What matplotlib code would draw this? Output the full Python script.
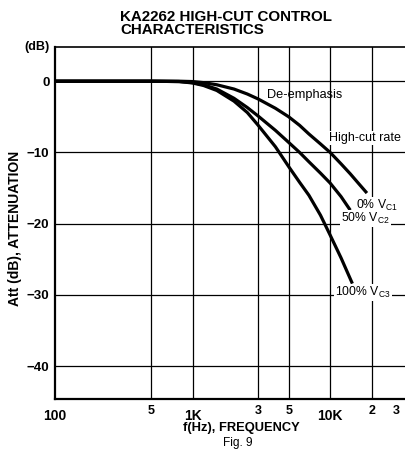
import matplotlib
matplotlib.use('Agg')
import matplotlib.pyplot as plt
from matplotlib.ticker import FixedLocator, FixedFormatter

plt.rcParams['font.family'] = ['Liberation Sans', 'DejaVu Sans']
plt.rcParams['mathtext.fontset'] = 'custom'
plt.rcParams['mathtext.rm'] = 'Liberation Sans'

# 曲线数据 (频率 Hz, 衰减 dB)
freq_0 = [100, 500, 800, 1000, 1200, 1500, 2000, 2500, 3000, 4000, 5000, 6000,
          7000, 8500, 10000, 12000, 14000, 16000, 18500]
att_0 = [0, 0, 0, -0.05, -0.2, -0.5, -1.1, -1.8, -2.5, -3.8, -5.0, -6.2,
         -7.4, -8.8, -10.0, -11.6, -13.0, -14.3, -15.7]

freq_50 = [100, 500, 800, 1000, 1200, 1500, 2000, 2500, 3000, 4000, 5000, 6000,
           7000, 8500, 10000, 12000, 14000]
att_50 = [0, 0, -0.05, -0.2, -0.5, -1.1, -2.4, -3.7, -4.9, -6.9, -8.6, -10.0,
          -11.3, -12.9, -14.3, -16.2, -18.1]

freq_100 = [100, 500, 800, 1000, 1200, 1500, 2000, 2500, 3000, 4000, 5000, 6000,
            7000, 8500, 10000, 12000, 14500]
att_100 = [0, 0, -0.05, -0.25, -0.6, -1.3, -2.8, -4.4, -6.2, -9.2, -12.0, -14.2,
           -16.0, -18.8, -21.6, -24.8, -28.4]

# 坐标刻度
major_x = [100, 1000, 10000]
major_x_labels = ['100', '1K', '10K']
minor_x = [500, 3000, 5000, 20000, 30000]
minor_x_labels = ['5', '3', '5', '2', '3']
grid_x = [500, 1000, 3000, 5000, 10000, 20000]
y_ticks = [0, -10, -20, -30, -40]

fig = plt.figure(figsize=(4.06, 4.55), dpi=100)
ax = fig.add_axes([55 / 406, 56 / 455, 358 / 406, 352 / 455])
ax.set_xscale('log')
ax.set_xlim(100, 40000)
ax.set_ylim(-44.6, 4.8)

# 网格线
for f in grid_x:
    ax.axvline(f, color='black', lw=0.9, zorder=1)
for v in y_ticks:
    ax.axhline(v, color='black', lw=0.9, zorder=1)

# 曲线
for fx, ay in [(freq_0, att_0), (freq_50, att_50), (freq_100, att_100)]:
    ax.plot(fx, ay, color='black', lw=2.3, solid_capstyle='butt',
            solid_joinstyle='round', zorder=3)

# 坐标轴样式
for side in ['left', 'bottom']:
    ax.spines[side].set_linewidth(1.6)
ax.spines['top'].set_linewidth(1.2)
ax.spines['right'].set_visible(False)

ax.xaxis.set_major_locator(FixedLocator(major_x))
ax.xaxis.set_major_formatter(FixedFormatter(major_x_labels))
ax.xaxis.set_minor_locator(FixedLocator(minor_x))
ax.xaxis.set_minor_formatter(FixedFormatter(minor_x_labels))
ax.tick_params(axis='x', which='major', length=0, pad=7, labelsize=10)
ax.tick_params(axis='x', which='minor', length=0, pad=4, labelsize=9)
for lab in ax.get_xticklabels(which='both'):
    lab.set_fontweight('bold')

ax.set_yticks(y_ticks)
ax.set_yticklabels(['0', '\u221210', '\u221220', '\u221230', '\u221240'],
                   fontweight='bold', fontsize=9.5)
ax.tick_params(axis='y', length=0, pad=4)

# 标题与标签
fig.text(120 / 406, 1 - 10 / 455, 'KA2262 HIGH-CUT CONTROL\nCHARACTERISTICS',
         ha='left', va='top', fontsize=10.9, fontweight='bold', linespacing=0.88)
fig.text(50 / 406, 1 - 47 / 455, '(dB)', ha='right', va='center',
         fontsize=9, fontweight='bold')
fig.text(241 / 406, 1 - 428 / 455, 'f(Hz), FREQUENCY', ha='center', va='center',
         fontsize=9.3, fontweight='bold')
fig.text(238 / 406, 1 - 443 / 455, 'Fig. 9', ha='center', va='center', fontsize=8.6)
fig.text(15 / 406, 1 - 228 / 455, 'Att (dB), ATTENUATION', ha='center', va='center',
         rotation=90, fontsize=10, fontweight='bold')

# 曲线标注
box = dict(facecolor='white', edgecolor='none', pad=0.6)
ax.text(3490, -1.96, 'De-emphasis', ha='left', va='center', fontsize=9.2, zorder=4)
ax.text(9840, -8.0, 'High-cut rate', ha='left', va='center', fontsize=9,
        bbox=box, zorder=4)
ax.text(15400, -17.4, r'0% V$\mathregular{_{C1}}$', ha='left', va='center',
        fontsize=8.8, bbox=box, zorder=4)
ax.text(12000, -19.3, r'50% V$\mathregular{_{C2}}$', ha='left', va='center',
        fontsize=8.8, bbox=box, zorder=4)
ax.text(10900, -29.6, r'100% V$\mathregular{_{C3}}$', ha='left', va='center',
        fontsize=8.8, bbox=box, zorder=4)

fig.savefig('out.png', dpi=100)
